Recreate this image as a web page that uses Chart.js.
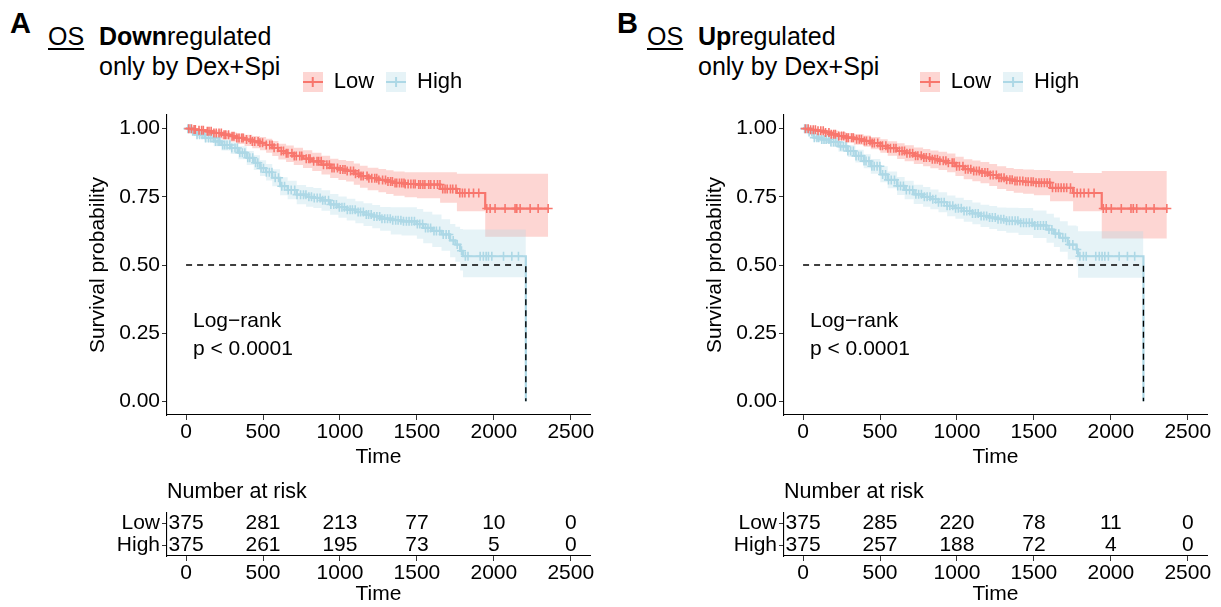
<!DOCTYPE html>
<html><head><meta charset="utf-8">
<script src="https://cdn.jsdelivr.net/npm/chart.js@4.4.1/dist/chart.umd.min.js"></script>
<style>
html,body{margin:0;padding:0;background:#fff;width:1221px;height:607px;overflow:hidden;position:relative;font-family:'Liberation Sans',Arial,Helvetica,sans-serif;color:#000}
canvas{position:absolute}
.hdr{position:absolute;white-space:nowrap;line-height:1;font-size:25px}
.tag{position:absolute;font-weight:bold;font-size:29px;line-height:1}
.os{text-decoration:underline;text-decoration-thickness:1.5px;text-underline-offset:3px}
</style></head><body>
<div class="tag" style="left:10px;top:9px">A</div>
<div class="hdr os" style="left:48px;top:24px">OS</div>
<div class="hdr" style="left:99px;top:24px"><b>Down</b>regulated</div>
<div class="hdr" style="left:99px;top:54px">only by Dex+Spi</div>
<div class="tag" style="left:617px;top:9px">B</div>
<div class="hdr os" style="left:647px;top:24px">OS</div>
<div class="hdr" style="left:698px;top:24px"><b>Up</b>regulated</div>
<div class="hdr" style="left:698px;top:54px">only by Dex+Spi</div>

<canvas id="mainA" width="610" height="470" style="left:0;top:0"></canvas>
<canvas id="riskA" width="610" height="133" style="left:0;top:474px"></canvas>
<canvas id="mainB" width="604" height="470" style="left:617px;top:0"></canvas>
<canvas id="riskB" width="604" height="133" style="left:617px;top:474px"></canvas>
<script>
// ---------- data ----------
const groups = ['Low', 'High'];
const xTicks = [0, 500, 1000, 1500, 2000, 2500];
const xTickLabels = ['0', '500', '1000', '1500', '2000', '2500'];
const yTicks = [0, 0.25, 0.5, 0.75, 1];
const yTickLabels = ['0.00', '0.25', '0.50', '0.75', '1.00'];
const riskTimes = [0, 500, 1000, 1500, 2000, 2500];

const riskLowA = [375, 281, 213, 77, 10, 0];
const riskHighA = [375, 261, 195, 73, 5, 0];
const riskLowB = [375, 285, 220, 78, 11, 0];
const riskHighB = [375, 257, 188, 72, 4, 0];

const medianHighA = 2208;
const medianHighB = 2212;

// Panel A - Low
const timeLowA = [0, 40, 80, 130, 180, 230, 280, 330, 380, 430, 480, 520, 560, 600, 650, 700, 760, 820, 880, 936, 990, 1040, 1090, 1130, 1180, 1250, 1300, 1348, 1420, 1500, 1651, 1760, 1944, 2353];
const survLowA = [1, .997, .994, .990, .984, .978, .972, .966, .960, .953, .948, .940, .930, .918, .910, .900, .890, .880, .868, .856, .850, .845, .835, .826, .818, .812, .806, .801, .797, .795, .779, .764, .707, .707];
const upperLowA = [1, 1, .999, .997, .994, .990, .986, .982, .978, .973, .969, .963, .955, .945, .938, .930, .921, .912, .901, .890, .885, .881, .872, .864, .857, .852, .847, .843, .840, .840, .840, .835, .835, .835];
const lowerLowA = [1, .991, .984, .977, .968, .960, .952, .944, .936, .928, .921, .912, .900, .887, .878, .867, .856, .845, .832, .819, .812, .806, .794, .783, .774, .767, .760, .754, .748, .745, .728, .697, .604, .604];
const censorLowA = [18, 35, 52, 60, 84, 101, 112, 138, 149, 163, 181, 196, 214, 229, 247, 258, 276, 299, 311, 330, 344, 362, 371, 393, 418, 431, 446, 468, 480, 497, 521, 544, 559, 572, 596, 618, 633, 651, 662, 688, 703, 716, 739, 752, 781, 797, 806, 829, 851, 862, 878, 893, 915, 931, 948, 962, 984, 1002, 1019, 1033, 1047, 1069, 1088, 1101, 1122, 1137, 1151, 1176, 1188, 1207, 1226, 1239, 1253, 1277, 1296, 1312, 1329, 1341, 1358, 1369, 1387, 1402, 1416, 1424, 1443, 1461, 1478, 1489, 1512, 1523, 1539, 1552, 1577, 1590, 1612, 1634, 1650, 1668, 1683, 1697, 1718, 1733, 1754, 1779, 1796, 1812, 1838, 1868, 1902, 1954, 1976, 2008, 2073, 2138, 2149, 2171, 2236, 2288, 2353];

// Panel A - High
const timeHighA = [0, 30, 70, 120, 180, 230, 290, 340, 394, 440, 480, 520, 560, 611, 660, 719, 780, 827, 880, 936, 990, 1044, 1100, 1153, 1210, 1261, 1330, 1400, 1500, 1541, 1600, 1660, 1716, 1750, 1781, 1800, 2208];
const survHighA = [1, .990, .978, .966, .953, .940, .929, .912, .893, .875, .855, .840, .820, .789, .775, .758, .750, .746, .737, .722, .712, .703, .694, .685, .678, .670, .664, .660, .650, .636, .625, .612, .590, .575, .552, .532, 0];
const upperHighA = [1, .997, .990, .981, .970, .959, .950, .935, .918, .902, .884, .870, .851, .822, .809, .793, .786, .782, .774, .760, .751, .743, .734, .726, .720, .713, .712, .712, .705, .695, .685, .668, .650, .640, .632, .630, .630];
const lowerHighA = [1, .980, .965, .950, .935, .920, .907, .888, .867, .848, .826, .810, .789, .756, .741, .723, .714, .709, .699, .684, .673, .663, .653, .643, .635, .626, .612, .608, .596, .580, .566, .552, .528, .512, .480, .455, .455];
const censorHighA = [12, 27, 43, 55, 71, 88, 104, 119, 127, 146, 161, 177, 192, 208, 219, 238, 251, 266, 284, 297, 318, 333, 349, 366, 382, 401, 414, 433, 452, 466, 487, 503, 522, 541, 558, 579, 601, 622, 640, 664, 683, 706, 721, 744, 763, 779, 798, 815, 833, 852, 871, 888, 904, 926, 941, 960, 977, 996, 1013, 1029, 1048, 1066, 1081, 1099, 1118, 1134, 1152, 1171, 1186, 1203, 1222, 1240, 1258, 1273, 1291, 1309, 1327, 1343, 1362, 1378, 1396, 1413, 1432, 1449, 1466, 1484, 1503, 1519, 1537, 1556, 1572, 1589, 1611, 1627, 1648, 1671, 1690, 1708, 1736, 1762, 1790, 1815, 1832, 1911, 1932, 1950, 1965, 1987, 2063, 2117, 2160];

// Panel B - Low
const timeLowB = [0, 40, 90, 140, 178, 230, 280, 330, 394, 440, 502, 550, 611, 660, 720, 780, 827, 880, 936, 990, 1044, 1100, 1153, 1210, 1261, 1320, 1369, 1430, 1500, 1605, 1755, 1941, 2364];
const survLowB = [1, .996, .992, .986, .979, .973, .967, .961, .955, .947, .937, .928, .918, .910, .901, .894, .888, .882, .875, .862, .851, .845, .839, .830, .820, .813, .808, .805, .802, .783, .764, .707, .707];
const upperLowB = [1, 1, .999, .996, .992, .988, .984, .979, .975, .969, .961, .954, .946, .939, .931, .925, .920, .915, .909, .897, .888, .883, .878, .870, .862, .856, .852, .850, .848, .845, .837, .845, .845];
const lowerLowB = [1, .990, .983, .974, .965, .957, .949, .941, .934, .924, .912, .901, .889, .880, .870, .862, .855, .848, .840, .826, .814, .807, .800, .790, .779, .771, .765, .761, .756, .734, .697, .597, .597];
const censorLowB = [15, 33, 49, 66, 80, 97, 115, 131, 146, 168, 183, 199, 210, 232, 250, 264, 281, 293, 316, 327, 348, 365, 379, 398, 412, 435, 449, 463, 485, 502, 516, 538, 551, 568, 589, 604, 626, 643, 659, 675, 694, 712, 731, 746, 768, 785, 801, 822, 840, 857, 873, 889, 911, 928, 944, 969, 981, 998, 1016, 1039, 1055, 1072, 1090, 1109, 1127, 1145, 1163, 1182, 1199, 1217, 1235, 1256, 1273, 1288, 1306, 1323, 1344, 1359, 1377, 1391, 1409, 1428, 1447, 1463, 1482, 1496, 1514, 1533, 1549, 1568, 1586, 1603, 1621, 1642, 1659, 1677, 1695, 1713, 1738, 1760, 1781, 1803, 1826, 1855, 1891, 1951, 1970, 2003, 2068, 2131, 2146, 2168, 2230, 2281, 2364];

// Panel B - High
const timeHighB = [0, 30, 69, 120, 178, 230, 290, 340, 394, 440, 502, 550, 611, 660, 719, 780, 827, 880, 936, 990, 1044, 1100, 1153, 1210, 1261, 1320, 1400, 1495, 1582, 1630, 1669, 1720, 1777, 1787, 2212];
const survHighB = [1, .988, .967, .960, .951, .935, .918, .900, .881, .862, .832, .812, .790, .775, .759, .750, .741, .730, .717, .708, .698, .689, .680, .674, .668, .662, .655, .645, .630, .615, .600, .575, .557, .532, 0];
const upperHighB = [1, .996, .980, .975, .968, .954, .939, .923, .906, .889, .862, .843, .823, .809, .794, .786, .777, .767, .755, .747, .738, .729, .721, .716, .711, .710, .709, .700, .688, .674, .660, .645, .642, .624, .624];
const lowerHighB = [1, .978, .953, .944, .933, .915, .896, .876, .855, .835, .803, .781, .757, .741, .724, .714, .704, .693, .679, .670, .659, .649, .639, .632, .625, .618, .610, .599, .582, .566, .549, .520, .495, .453, .453];
const censorHighB = [10, 24, 39, 57, 73, 90, 102, 121, 136, 150, 168, 181, 199, 213, 229, 244, 262, 279, 291, 309, 327, 344, 361, 377, 396, 409, 428, 447, 462, 481, 499, 517, 536, 555, 573, 594, 615, 633, 652, 671, 692, 712, 733, 751, 769, 788, 806, 825, 843, 862, 880, 899, 917, 936, 954, 973, 991, 1009, 1028, 1046, 1064, 1083, 1101, 1120, 1138, 1157, 1175, 1193, 1212, 1230, 1249, 1267, 1286, 1304, 1322, 1341, 1359, 1378, 1396, 1414, 1433, 1451, 1470, 1488, 1506, 1525, 1543, 1562, 1580, 1598, 1617, 1640, 1662, 1688, 1705, 1731, 1753, 1779, 1799, 1822, 1840, 1902, 1925, 1943, 1961, 1984, 2054, 2108, 2155];

// ---------- styling ----------
Chart.defaults.font.family = "'Liberation Sans', Arial, Helvetica, sans-serif";
Chart.defaults.font.size = 21;
Chart.defaults.color = '#000';

const LOW_COLOR = '#F8766D', HIGH_COLOR = '#ADD8E6';
const LOW_FILL = 'rgba(248,118,109,0.3)', HIGH_FILL = 'rgba(173,216,230,0.3)';
const X_MIN = -124, X_MAX = 2625;

function survAt(times, surv, t) {
  let s = surv[0];
  for (let i = 0; i < times.length; i++) { if (times[i] <= t) s = surv[i]; else break; }
  return s;
}
function pts(times, vals) { return times.map((t, i) => ({x: t, y: vals[i]})); }
function legendIcon(line, fill) {
  const c = document.createElement('canvas'); c.width = 20; c.height = 20;
  const g = c.getContext('2d');
  g.fillStyle = fill; g.fillRect(0, 0, 20, 20);
  g.strokeStyle = line; g.lineWidth = 2; g.beginPath();
  g.moveTo(0, 10); g.lineTo(20, 10); g.moveTo(10, 5); g.lineTo(10, 15); g.stroke();
  return c;
}
function fixTicks(values) { return function (scale) { scale.ticks = values.map(v => ({value: v})); }; }

function xScale(height) {
  return {
    type: 'linear', min: X_MIN, max: X_MAX,
    afterBuildTicks: fixTicks(xTicks),
    afterFit(s) { s.height = height; },
    grid: {display: true, drawOnChartArea: false, drawTicks: true, tickLength: 5, color: '#333', lineWidth: 1},
    border: {display: true, color: '#000', width: 1.1},
    ticks: {padding: 0, color: '#000', font: {size: 21}, maxRotation: 0, autoSkip: false,
      callback: (v) => xTickLabels[xTicks.indexOf(v)]},
    title: {display: true, text: 'Time', color: '#000', font: {size: 21}, padding: {top: 0, bottom: 0}}
  };
}

const logRankPlugin = {
  id: 'logrank',
  afterDatasetsDraw(chart) {
    const {ctx, scales: {x, y}} = chart;
    ctx.save();
    ctx.font = "21px 'Liberation Sans', Arial, sans-serif";
    ctx.fillStyle = '#000'; ctx.textAlign = 'left'; ctx.textBaseline = 'middle';
    ctx.fillText('Log\u2212rank', x.getPixelForValue(45), y.getPixelForValue(0.293));
    ctx.fillText('p < 0.0001', x.getPixelForValue(45), y.getPixelForValue(0.19));
    ctx.restore();
  }
};

// nudges the legend a few pixels right so it sits where the reference has it
const legendShiftPlugin = {
  id: 'legendShift',
  afterLayout(chart) { if (chart.legend) { chart.legend.left += 4; chart.legend.right += 4; } }
};

const riskTextPlugin = {
  id: 'risktext',
  afterDatasetsDraw(chart) {
    const ctx = chart.ctx;
    ctx.save();
    ctx.font = "21px 'Liberation Sans', Arial, sans-serif";
    ctx.fillStyle = '#000'; ctx.textAlign = 'center'; ctx.textBaseline = 'middle';
    chart.data.datasets.forEach((ds, i) => {
      const meta = chart.getDatasetMeta(i);
      meta.data.forEach((pt, j) => ctx.fillText(String(ds.data[j].n), pt.x, pt.y));
    });
    ctx.restore();
  }
};

function buildPanel(mainId, riskId, p) {
  const iconLow = legendIcon(LOW_COLOR, LOW_FILL), iconHigh = legendIcon(HIGH_COLOR, HIGH_FILL);
  const base = {stepped: 'before', pointRadius: 0, xAxisID: 'x', yAxisID: 'y'};
  const datasets = [
    {...base, label: 'lowUpper', data: pts(p.low.t, p.low.u), borderWidth: 0, fill: false, order: 5},
    {...base, label: 'lowLower', data: pts(p.low.t, p.low.l), borderWidth: 0, fill: 0, backgroundColor: LOW_FILL, order: 5},
    {...base, label: 'highUpper', data: pts(p.high.t, p.high.u), borderWidth: 0, fill: false, order: 4},
    {...base, label: 'highLower', data: pts(p.high.t, p.high.l), borderWidth: 0, fill: 2, backgroundColor: HIGH_FILL, order: 4},
    {...base, label: 'Low', data: pts(p.low.t, p.low.s), borderColor: LOW_COLOR, borderWidth: 2.2, fill: false, order: 3},
    {...base, label: 'High', data: pts(p.high.t, p.high.s), borderColor: HIGH_COLOR, borderWidth: 2.2, fill: false, order: 3},
    {label: 'lowCensor', xAxisID: 'x', yAxisID: 'y', showLine: false, pointStyle: 'cross', pointRadius: 4.5, pointBorderWidth: 1.6,
      borderColor: LOW_COLOR, pointBorderColor: LOW_COLOR, order: 2,
      data: p.low.c.map(t => ({x: t, y: survAt(p.low.t, p.low.s, t)}))},
    {label: 'highCensor', xAxisID: 'x', yAxisID: 'y', showLine: false, pointStyle: 'cross', pointRadius: 4.5, pointBorderWidth: 1.6,
      borderColor: HIGH_COLOR, pointBorderColor: HIGH_COLOR, order: 2,
      data: p.high.c.map(t => ({x: t, y: survAt(p.high.t, p.high.s, t)}))},
    {label: 'median', xAxisID: 'x', yAxisID: 'y', pointRadius: 0, borderColor: '#000', borderWidth: 1.4, borderDash: [6, 5], fill: false, order: 1,
      data: [{x: 0, y: 0.5}, {x: p.median, y: 0.5}, {x: p.median, y: 0}]}
  ];
  new Chart(document.getElementById(mainId), {
    type: 'line',
    data: {datasets},
    options: {
      responsive: false, animation: false, events: [],
      layout: {padding: {left: 84, right: p.padRight, top: 59, bottom: 0}},
      plugins: {
        tooltip: {enabled: false},
        legend: {
          display: true, position: 'top', fullSize: false,
          labels: {
            usePointStyle: true, boxWidth: 20, boxHeight: 20, padding: 12, color: '#000', font: {size: 22},
            generateLabels: () => [
              {text: groups[0], pointStyle: iconLow, fillStyle: LOW_FILL, strokeStyle: LOW_COLOR, lineWidth: 0, hidden: false, datasetIndex: 4, fontColor: '#000'},
              {text: groups[1], pointStyle: iconHigh, fillStyle: HIGH_FILL, strokeStyle: HIGH_COLOR, lineWidth: 0, hidden: false, datasetIndex: 5, fontColor: '#000'}
            ]
          }
        }
      },
      scales: {
        x: xScale(55),
        y: {
          type: 'linear', min: -0.05, max: 1.05,
          afterBuildTicks: fixTicks(yTicks),
          afterFit(s) { s.width = 83; },
          grid: {display: true, drawOnChartArea: false, drawTicks: true, tickLength: 5, color: '#333', lineWidth: 1},
          border: {display: true, color: '#000', width: 1.1},
          ticks: {padding: 2, color: '#000', font: {size: 21}, callback: (v) => yTickLabels[yTicks.indexOf(v)]},
          title: {display: true, text: 'Survival probability', color: '#000', font: {size: 21}, padding: {top: 2, bottom: 0}}
        },
        spacer: {
          type: 'linear', position: 'top', display: true,
          grid: {display: false}, border: {display: false}, ticks: {display: false},
          afterFit(s) { s.height = 12; }
        }
      }
    },
    plugins: [logRankPlugin, legendShiftPlugin]
  });

  new Chart(document.getElementById(riskId), {
    type: 'line',
    data: {
      datasets: [p.riskLow, p.riskHigh].map((arr, gi) => ({
        label: groups[gi], showLine: false, pointRadius: 0,
        data: arr.map((n, i) => ({x: riskTimes[i], y: groups[gi], n}))
      }))
    },
    options: {
      responsive: false, animation: false, events: [],
      layout: {padding: {left: 84, right: p.padRight, top: 0, bottom: 0}},
      plugins: {
        tooltip: {enabled: false},
        legend: {display: false},
        title: {display: true, text: 'Number at risk', align: 'start', fullSize: false, color: '#000',
          font: {size: 21.5, weight: 'normal'}, padding: {top: 5, bottom: 8}}
      },
      scales: {
        x: xScale(51),
        y: {
          type: 'category', labels: groups, offset: true,
          afterFit(s) { s.width = 83; },
          grid: {display: true, drawOnChartArea: false, drawTicks: true, tickLength: 5, color: '#333', lineWidth: 1, offset: false},
          border: {display: true, color: '#000', width: 1.1},
          ticks: {padding: 2, color: '#000', font: {size: 21}, autoSkip: false}
        }
      }
    },
    plugins: [riskTextPlugin]
  });
}

buildPanel('mainA', 'riskA', {
  low: {t: timeLowA, s: survLowA, u: upperLowA, l: lowerLowA, c: censorLowA},
  high: {t: timeHighA, s: survHighA, u: upperHighA, l: lowerHighA, c: censorHighA},
  median: medianHighA, riskLow: riskLowA, riskHigh: riskHighA, padRight: 20
});
buildPanel('mainB', 'riskB', {
  low: {t: timeLowB, s: survLowB, u: upperLowB, l: lowerLowB, c: censorLowB},
  high: {t: timeHighB, s: survHighB, u: upperHighB, l: lowerHighB, c: censorHighB},
  median: medianHighB, riskLow: riskLowB, riskHigh: riskHighB, padRight: 14
});
</script>
</body></html>
